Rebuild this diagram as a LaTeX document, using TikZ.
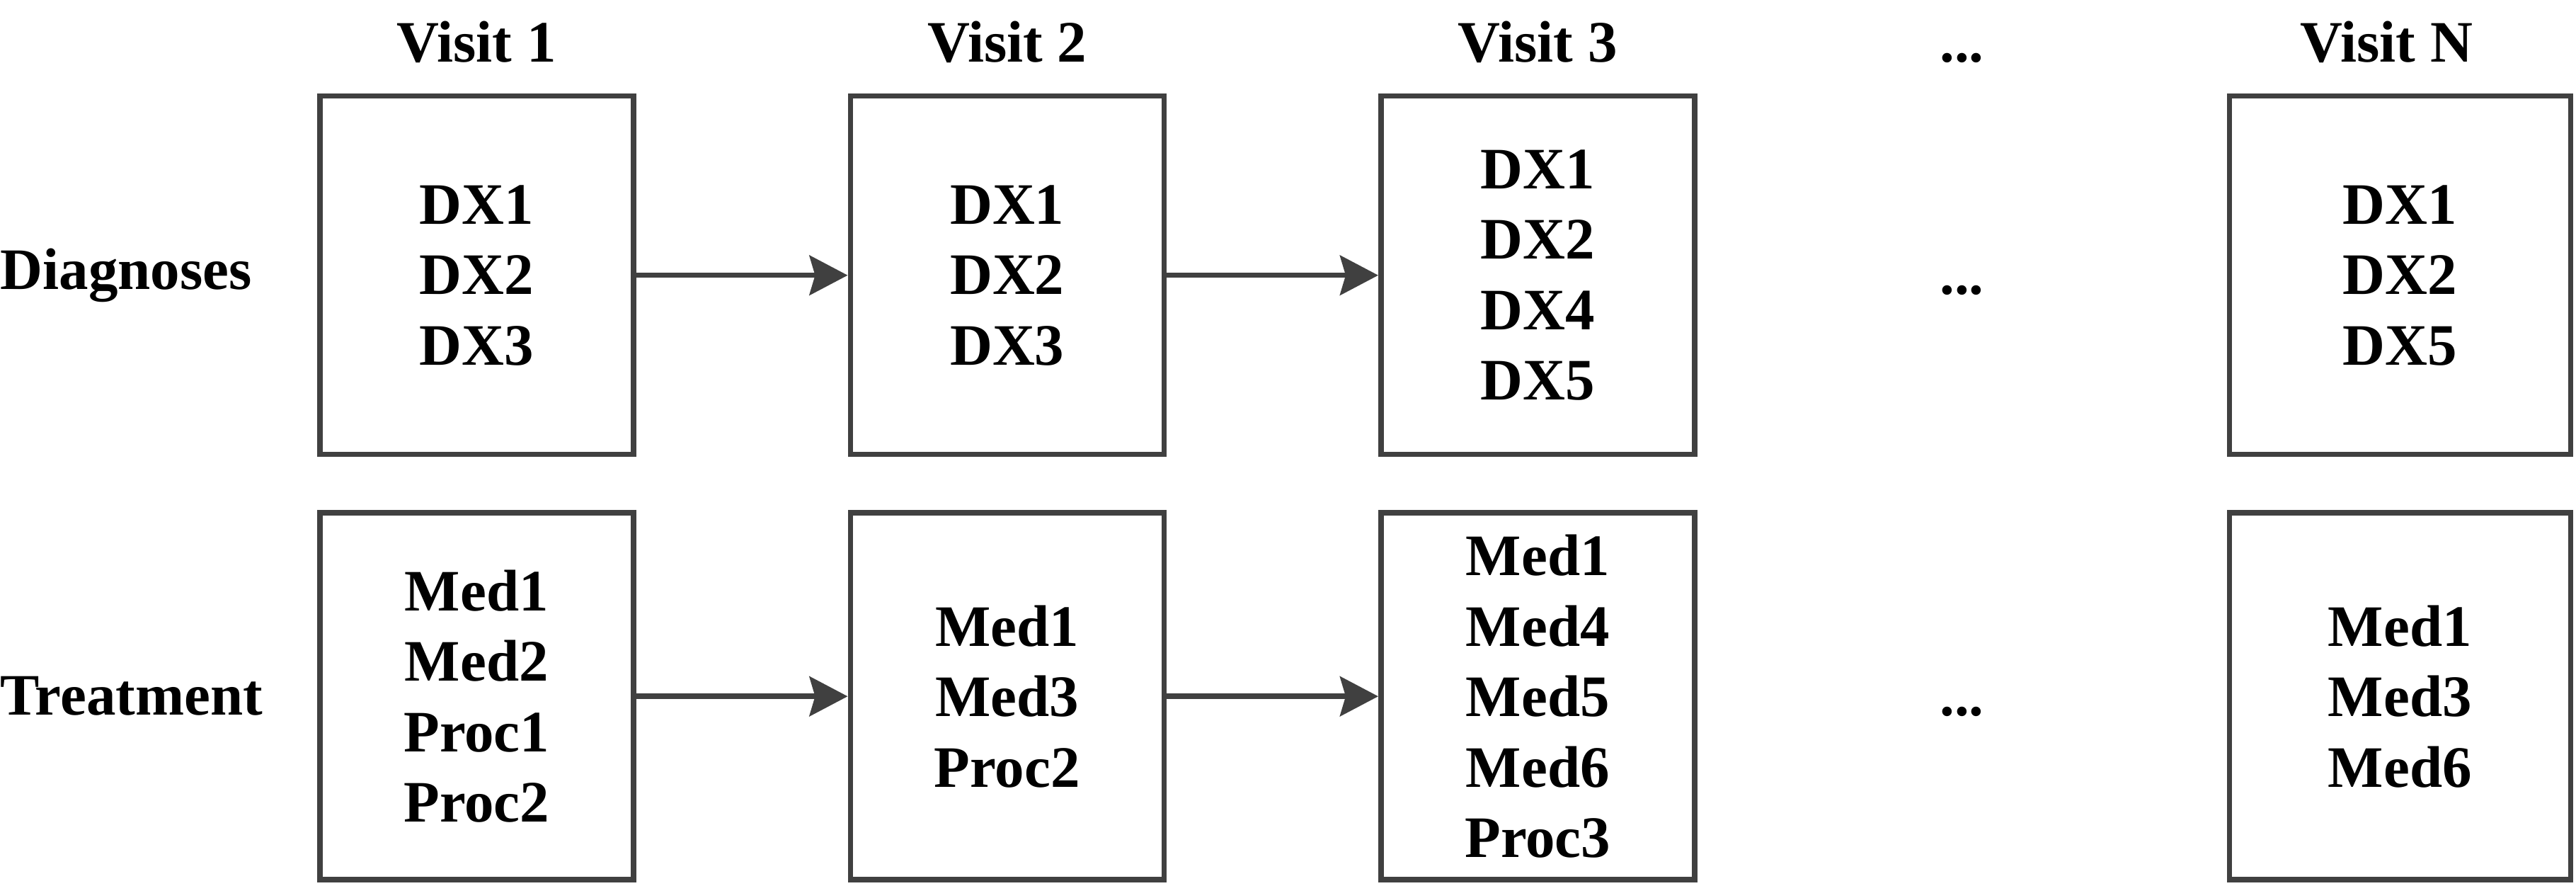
\documentclass[tikz,border=0pt]{standalone}
\usepackage{fontspec}
\setmainfont{Liberation Serif}
\usepackage{xcolor}
\usepackage{tikz}
\usetikzlibrary{arrows.meta, positioning, calc}
\definecolor{edgegray}{HTML}{404040}
\newcommand{\visitfont}{\fontsize{23.6}{28.3}\selectfont\bfseries}
\tikzstyle{box} = [rectangle, draw=edgegray, line width=0.075cm, minimum width=4.43cm, align=center, inner sep=0pt, font=\visitfont]
\tikzstyle{tag} = [inner sep=0pt, font=\visitfont]
\tikzstyle{arrow} = [draw=edgegray, line width=0.075cm, -{Stealth[length=0.54cm, width=0.56cm, inset=0.08cm]}]

\begin{document}
\begin{tikzpicture}[node distance=2.99cm]
    \useasboundingbox (0,0) rectangle (36.39,12.51);

    % Diagnoses row
    \node (dx1) [box, minimum height=5.06cm, anchor=north west] at (4.48,11.19) {DX1\\DX2\\DX3};
    \node (dx2) [box, minimum height=5.06cm, right=of dx1] {DX1\\DX2\\DX3};
    \node (dx3) [box, minimum height=5.06cm, right=of dx2] {DX1\\DX2\\DX4\\DX5};
    \node (dxn) [box, minimum height=5.06cm, minimum width=4.82cm, right=7.48cm of dx3] {DX1\\DX2\\DX5};

    % Treatment row
    \node (tr1) [box, minimum height=5.18cm, below=0.75cm of dx1] {Med1\\Med2\\Proc1\\Proc2};
    \node (tr2) [box, minimum height=5.18cm, below=0.75cm of dx2] {Med1\\Med3\\Proc2};
    \node (tr3) [box, minimum height=5.18cm, below=0.75cm of dx3] {Med1\\Med4\\Med5\\Med6\\Proc3};
    \node (trn) [box, minimum height=5.18cm, minimum width=4.82cm, below=0.75cm of dxn] {Med1\\Med3\\Med6};

    % Visit labels
    \node (v1) [tag, above=0.43cm of dx1] {Visit 1};
    \node (v2) [tag, above=0.43cm of dx2] {Visit 2};
    \node (v3) [tag, above=0.43cm of dx3] {Visit 3};
    \node (vn) [tag, above=0.43cm of dxn, xshift=-0.19cm] {Visit N};

    % Row labels
    \coordinate (edge) at (0,0);
    \node (diag) [tag, anchor=west] at (dx1 -| edge) {Diagnoses};
    \node (treat) [tag, anchor=west] at (tr1 -| edge) {Treatment};

    % Gap dots
    \node (gapdx) [tag, anchor=base] at ($(dx3.east)!0.5!(dxn.west)+(0,-0.27)$) {...};
    \node (gaptr) [tag, anchor=base] at ($(tr3.east)!0.5!(trn.west)+(0,-0.27)$) {...};
    \node (gapv) [tag, anchor=base] at (v3.base -| gapdx) {...};

    % Arrows
    \draw [arrow] (dx1) -- (dx2);
    \draw [arrow] (dx2) -- (dx3);
    \draw [arrow] (tr1) -- (tr2);
    \draw [arrow] (tr2) -- (tr3);
\end{tikzpicture}
\end{document}
